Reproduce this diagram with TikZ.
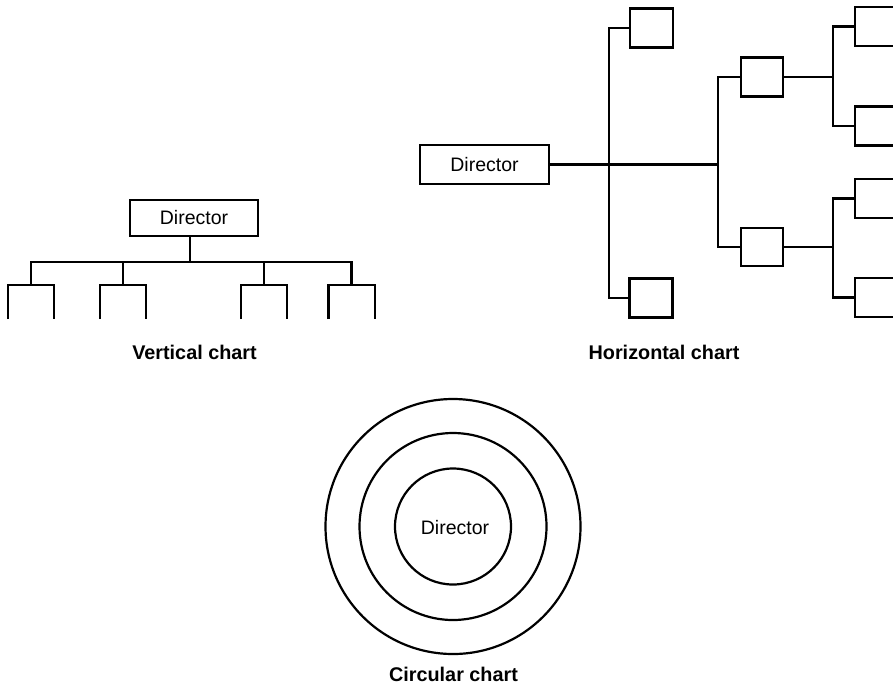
\documentclass[tikz,border=0pt]{standalone}
\usepackage{fontspec}
\setmainfont{Liberation Sans}
\begin{document}
\begin{tikzpicture}[x=1pt,y=-1pt,
  ln/.style={line width=2.4pt, line join=miter},
  dbox/.style={draw, line width=2.4pt, inner sep=0pt, font=\fontsize{19.5}{22}\selectfont},
  sbox/.style={draw, line width=2.4pt, inner sep=0pt, minimum width=43pt, minimum height=39pt},
  obox/.style={inner sep=0pt, minimum width=46pt, minimum height=34pt},
  lbl/.style={font=\fontsize{19.8}{22}\selectfont\bfseries},
  dtext/.style={font=\fontsize{19.5}{22}\selectfont}]
\useasboundingbox (0,0) rectangle (893,689);
\clip (0,0) rectangle (893,689);
% ---------- Vertical chart ----------
\node[dbox, minimum width=128pt, minimum height=36pt] (vdir) at (194,218) {Director};
\coordinate (vbar) at (190,262);
\node[obox] (v1) at (31,302) {};
\node[obox] (v2) at (123,302) {};
\node[obox] (v3) at (264,302) {};
\node[obox] (v4) at (351.5,302) {};
\draw[ln] (vdir.south -| vbar) -- (vbar);
\draw[ln] (v1.north) -- (v1.north |- vbar) -- (v4.north |- vbar) -- (v4.north);
\draw[ln] (v2.north) -- (v2.north |- vbar);
\draw[ln] (v3.north) -- (v3.north |- vbar);
\foreach \b in {v1,v2,v3,v4}
  \draw[ln] (\b.south west) |- (\b.north east) -- (\b.south east);
\node[lbl] (vlab) at (194.5,352) {Vertical chart};
% ---------- Horizontal chart ----------
\node[dbox, minimum width=129pt, minimum height=39pt] (hdir) at (484.5,164.5) {Director};
\coordinate (j1) at (609,164.5);
\coordinate (j2) at (718,164.5);
\coordinate (j3) at (833,0);
\node[sbox] (h1) at (651.5,28) {};
\node[sbox] (h2) at (651,298) {};
\node[sbox, minimum width=42pt] (m1) at (762,77) {};
\node[sbox, minimum width=42pt, minimum height=38pt] (m2) at (762,247) {};
\node[sbox] (r1) at (876.5,26.5) {};
\node[sbox] (r2) at (876.5,126) {};
\node[sbox] (r3) at (876.5,198.5) {};
\node[sbox] (r4) at (876.5,297.5) {};
\draw[ln] (hdir.east) -- (j2);
\draw[ln] (h1.west) -- (h1.west -| j1) -- (h2.west -| j1) -- (h2.west);
\draw[ln] (m1.west) -- (m1.west -| j2) -- (m2.west -| j2) -- (m2.west);
\draw[ln] (r1.west) -- (r1.west -| j3) -- (r2.west -| j3) -- (r2.west);
\draw[ln] (r3.west) -- (r3.west -| j3) -- (r4.west -| j3) -- (r4.west);
\draw[ln] (m1.east) -- (m1.east -| j3);
\draw[ln] (m2.east) -- (m2.east -| j3);
\node[lbl] (hlab) at (664,352) {Horizontal chart};
% ---------- Circular chart ----------
\coordinate (cc) at (453,526.5);
\draw[line width=2.2pt] (cc) circle[radius=127.5];
\draw[line width=2.2pt] (cc) circle[radius=93.5];
\draw[line width=2.2pt] (cc) circle[radius=58];
\node[dtext] (cdir) at (455,528) {Director};
\node[lbl] (clab) at (453.5,674) {Circular chart};
\end{tikzpicture}
\end{document}
